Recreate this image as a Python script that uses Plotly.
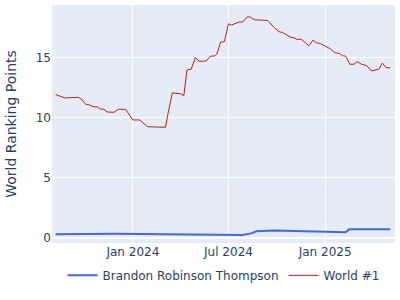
import plotly.graph_objects as go

player_name = "Brandon Robinson Thompson"
player_dates = ["2023-08-07", "2023-12-01", "2024-03-01", "2024-06-01", "2024-07-28",
                "2024-08-13", "2024-08-23", "2024-09-27", "2025-02-09", "2025-02-16",
                "2025-05-05"]
player_points = [0.28, 0.32, 0.27, 0.24, 0.22, 0.35, 0.53, 0.60, 0.44, 0.70, 0.69]

world1_dates = [
    "2023-08-07", "2023-08-24", "2023-09-19", "2023-09-25", "2023-10-03", "2023-10-11",
    "2023-10-17", "2023-10-26", "2023-10-30", "2023-11-07", "2023-11-13", "2023-11-26",
    "2023-12-04", "2023-12-18", "2024-01-01", "2024-01-14", "2024-01-29", "2024-02-15",
    "2024-03-03", "2024-03-08", "2024-03-16", "2024-04-01", "2024-04-07", "2024-04-13",
    "2024-04-21", "2024-04-29", "2024-05-06", "2024-05-19", "2024-05-28", "2024-06-05",
    "2024-06-09", "2024-06-16", "2024-06-23", "2024-07-01", "2024-07-07", "2024-07-21",
    "2024-07-28", "2024-08-06", "2024-08-12", "2024-08-19", "2024-09-02", "2024-09-14",
    "2024-09-25", "2024-10-05", "2024-10-12", "2024-10-19", "2024-10-27", "2024-11-03",
    "2024-11-09", "2024-11-16", "2024-11-23", "2024-12-01", "2024-12-09", "2024-12-15",
    "2024-12-23", "2025-01-02", "2025-01-11", "2025-01-19", "2025-01-28", "2025-02-03",
    "2025-02-09", "2025-02-17", "2025-02-25", "2025-03-03", "2025-03-11", "2025-03-21",
    "2025-03-30", "2025-04-10", "2025-04-14", "2025-04-20", "2025-04-27", "2025-05-05",
]
world1_points = [
    11.93, 11.65, 11.70, 11.54, 11.12, 11.06,
    10.92, 10.90, 10.73, 10.70, 10.48, 10.45,
    10.70, 10.70, 9.81, 9.81, 9.25, 9.22,
    9.20, 10.37, 12.07, 12.00, 11.84, 13.99,
    14.05, 15.02, 14.72, 14.72, 15.13, 15.16,
    15.33, 16.30, 16.33, 17.83, 17.73, 17.98,
    17.98, 18.42, 18.39, 18.17, 18.17, 18.11,
    17.56, 17.17, 17.11, 16.91, 16.72, 16.66,
    16.52, 16.56, 16.30, 16.00, 16.47, 16.25,
    16.19, 15.97, 15.74, 15.43, 15.35, 15.18,
    15.13, 14.46, 14.46, 14.68, 14.46, 14.35,
    13.90, 14.01, 14.07, 14.55, 14.18, 14.16,
]

fig = go.Figure()
fig.add_trace(go.Scatter(x=player_dates, y=player_points, mode="lines",
                         name=player_name, line=dict(color="royalblue", width=2)))
fig.add_trace(go.Scatter(x=world1_dates, y=world1_points, mode="lines",
                         name="World #1", line=dict(color="firebrick", width=1)))

fig.update_layout(
    width=400, height=300,
    font=dict(family="DejaVu Sans", size=12),
    margin=dict(l=52, r=5, t=5, b=57),
    legend=dict(orientation="h", x=0.5, xanchor="center", y=-0.075, yanchor="top"),
    yaxis=dict(title=dict(text="World Ranking Points", font=dict(size=14)),
               range=[-0.45, 19.4], tickvals=[0, 5, 10, 15]),
    xaxis=dict(range=["2023-07-31", "2025-05-14"], dtick="M6", tick0="2024-01-01",
               tickformat="%b %Y"),
)

fig.write_html("out.html")
